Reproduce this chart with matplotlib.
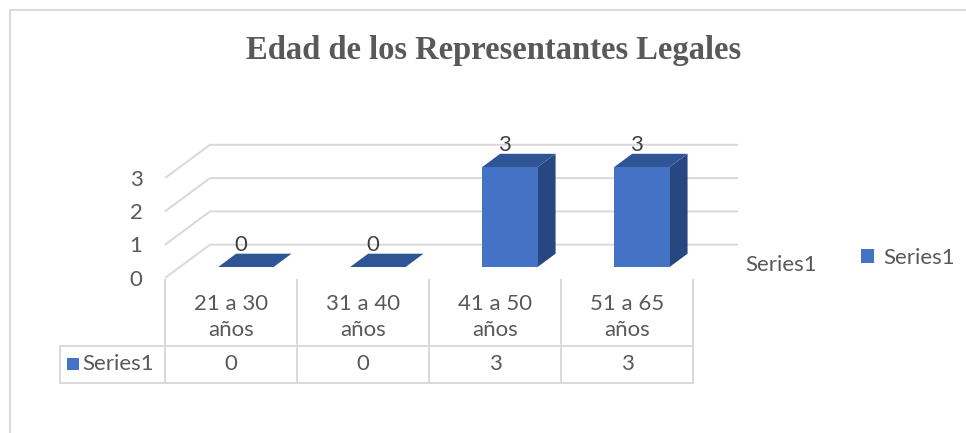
import matplotlib
matplotlib.use("Agg")
import matplotlib.pyplot as plt
from matplotlib.patches import Polygon, Patch

# datos del grafico
categorias = ["21 a 30\naños", "31 a 40\naños", "41 a 50\naños", "51 a 65\naños"]
valores = [0, 0, 3, 3]
serie = "Series1"
ticks_y = [0, 1, 2, 3]
titulo = "Edad de los Representantes Legales"

plt.rcParams['font.family'] = ['Lato', 'DejaVu Sans']
gris = '#595959'
linea = '#D9D9D9'
fs = 16

W, H = 966, 433
fig = plt.figure(figsize=(W / 100, H / 100), dpi=100)
ax = fig.add_axes([0, 0, 1, 1])
ax.axis('off')

# escala: una categoria = 132 px, una unidad = 33.3 px
PX_CAT, X0 = 132.0, 165.0
PX_VAL, Y0 = 33.3, 278.0
def px_x(px):
    return -0.5 + (px - X0) / PX_CAT
def px_y(py):
    return (Y0 - py) / PX_VAL
ax.set_xlim(px_x(0), px_x(W))
ax.set_ylim(px_y(H), px_y(0))

# vector de profundidad (pseudo 3D)
DX, DY = 45 / PX_CAT, 1.0
n = len(categorias)

# lineas de cuadricula: pared del fondo y diagonales
for v in ticks_y:
    ax.plot([-0.5, -0.5 + DX, n - 0.5 + DX], [v, v + DY, v + DY],
            color=linea, lw=1.4, solid_capstyle='butt', zorder=1)
    ax.text(-0.5 - 0.17, v - 0.05, str(v), ha='right', va='center',
            fontsize=fs, color=gris)

# barras 3D
w, z0, z1 = 0.42, 0.33, 0.73
for i, v in enumerate(valores):
    xl = i - w / 2 + z0 * DX
    xr = xl + w
    yb = z0 * DY
    yt = yb + v
    ox, oy = (z1 - z0) * DX, (z1 - z0) * DY
    frente = [(xl, yb), (xr, yb), (xr, yt), (xl, yt)]
    arriba = [(xl, yt), (xr, yt), (xr + ox, yt + oy), (xl + ox, yt + oy)]
    lado = [(xr, yb), (xr + ox, yb + oy), (xr + ox, yt + oy), (xr, yt)]
    ax.add_patch(Polygon(lado, closed=True, fc='#284780', ec='none', zorder=3))
    ax.add_patch(Polygon(arriba, closed=True, fc='#2F5597', ec='none', zorder=3))
    if v > 0:
        ax.add_patch(Polygon(frente, closed=True, fc='#4472C4', ec='none', zorder=4))
    ax.text(i + 0.075, v + z1 * DY - 0.05, str(v), ha='center', va='bottom',
            fontsize=fs, color='#404040', zorder=5)

# etiqueta del eje de profundidad
ax.text(px_x(745), px_y(265), serie, ha='left', va='center',
        fontsize=fs, color=gris)

# tabla de datos
t_top, t_mid, t_bot = px_y(280), px_y(346), px_y(383)
t_left = px_x(60)
for k in range(n + 1):
    ax.plot([k - 0.5, k - 0.5], [t_top, t_bot], color=linea, lw=1.4, zorder=1)
ax.plot([t_left, t_left], [t_mid, t_bot], color=linea, lw=1.4, zorder=1)
for yy in (t_mid, t_bot):
    ax.plot([t_left, n - 0.5], [yy, yy], color=linea, lw=1.4, zorder=1)
for i, (c, v) in enumerate(zip(categorias, valores)):
    ax.text(i, px_y(317), c, ha='center', va='center', fontsize=fs,
            color=gris, linespacing=1.35)
    ax.text(i, px_y(364), str(v), ha='center', va='center', fontsize=fs, color=gris)
ax.add_patch(plt.Rectangle((px_x(67), px_y(370)), 12 / PX_CAT, 12 / PX_VAL,
                           fc='#4472C4', ec='none'))
ax.text(px_x(82), px_y(364), serie, ha='left', va='center', fontsize=fs, color=gris)

# leyenda
fig.legend(handles=[Patch(fc='#4472C4', label=serie)], loc='center left',
           bbox_to_anchor=(841 / W, 1 - 258 / H), frameon=False,
           handlelength=0.6, handleheight=0.6, handletextpad=0.4,
           prop={'size': fs}, labelcolor=gris)

# titulo
ax.text(px_x(494), px_y(50), titulo, ha='center', va='center',
        fontsize=23.5, fontweight='bold', family='Liberation Serif', color=gris)

# borde del area del grafico
ax.plot([px_x(10), px_x(10), px_x(W)], [px_y(H), px_y(10), px_y(10)],
        color=linea, lw=1.4)

fig.savefig('out.png', dpi=100)
